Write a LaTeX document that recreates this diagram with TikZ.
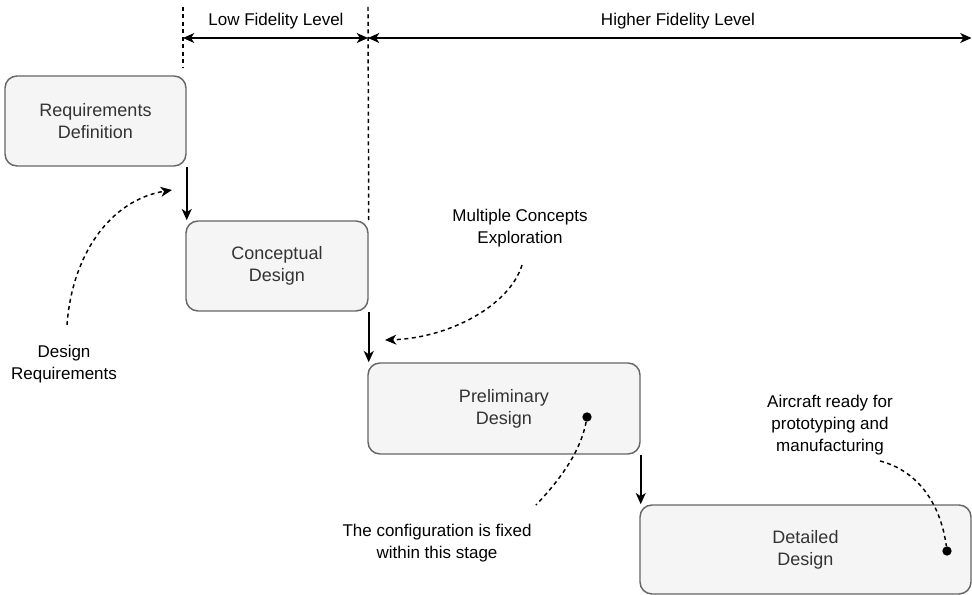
\documentclass[tikz,border=0pt]{standalone}
\usepackage{fontspec}
\setmainfont{Liberation Sans}
\usetikzlibrary{arrows.meta}
\definecolor{boxfill}{HTML}{F5F5F5}
\definecolor{boxline}{HTML}{666666}
\definecolor{boxtext}{HTML}{333333}

\begin{document}
\begin{tikzpicture}[x=0.75pt,y=-0.75pt,
  stage/.style={draw=boxline, fill=boxfill, text=boxtext, rounded corners=9pt,
    line width=1.1pt, align=center, inner sep=0pt,
    font=\fontsize{13.5}{16.5}\selectfont},
  note/.style={align=center, inner sep=0pt, font=\fontsize{12.75}{16.5}\selectfont},
  flow/.style={line width=1.2pt, -{Stealth[length=8.5pt,width=7.5pt,inset=2.5pt]}},
  span/.style={line width=1.2pt,
    {Stealth[length=8.5pt,width=7.5pt,inset=2.5pt]}-{Stealth[length=8.5pt,width=7.5pt,inset=2.5pt]}},
  guide/.style={line width=1.1pt, dash pattern=on 3pt off 2.6pt},
  pointer/.style={guide, -{Stealth[length=8.5pt,width=7.5pt,inset=2.5pt]}},
  dot/.style={circle, fill=black, inner sep=0pt, minimum size=7pt}
]
\useasboundingbox (0,0) rectangle (972,595);

% design stages
\node[stage, minimum width=135.75pt, minimum height=67.5pt] (b1) at (95.5,121) {Requirements\\Definition};
\node[stage, minimum width=136.5pt, minimum height=67.5pt] (b2) at (277,266) {Conceptual\\Design};
\node[stage, minimum width=204pt, minimum height=68.25pt] (b3) at (504,408.5) {Preliminary\\Design};
\node[stage, minimum width=248.25pt, minimum height=66.75pt] (b4) at (805.5,549.5) {Detailed\\Design};

% stage-to-stage flow
\draw[flow] (b1.south east) -- (b1.south east |- b2.north);
\draw[flow] (b2.south east) -- (b2.south east |- b3.north);
\draw[flow] (b3.south east) -- (b3.south east |- b4.north);

% fidelity bands
\coordinate (g1top) at (183,7);
\coordinate (g1bot) at (183,67);
\coordinate (g2top) at (368,7);
\draw[guide] (g1top) -- (g1bot);
\draw[guide] (g2top) -- (b2.north east);
\coordinate (lowL) at (183,38);
\coordinate (mid) at (368,38);
\coordinate (highR) at (971.5,38);
\draw[span] (lowL) -- (mid);
\draw[span] (mid) -- (highR);
\node[note] (lowlbl) at (276,21) {Low Fidelity Level};
\node[note] (highlbl) at (678,21) {Higher Fidelity Level};

% annotations
\node[note] (dr) at (64,364) {Design\\Requirements};
\coordinate (drs) at (67,325);
\coordinate (dre) at (172,190);
\draw[pointer] (drs) .. controls (72,255) and (110,200) .. (dre);

\node[note] (mce) at (520,228) {Multiple Concepts\\Exploration};
\coordinate (mcs) at (522,265);
\coordinate (mcend) at (385,340);
\draw[pointer] (mcs) .. controls (510,305) and (450,338) .. (mcend);

\node[dot] (d1) at (587,417) {};
\node[note] (cfg) at (437,543) {The configuration is fixed\\within this stage};
\coordinate (cfgs) at (536,505);
\draw[guide] (d1) .. controls (580,455) and (555,485) .. (cfgs);

\node[dot] (d2) at (947,551) {};
\node[note] (acr) at (830,425) {Aircraft ready for\\prototyping and\\manufacturing};
\coordinate (acs) at (880,461);
\draw[guide] (acs) .. controls (915,470) and (940,500) .. (d2);
\end{tikzpicture}
\end{document}
